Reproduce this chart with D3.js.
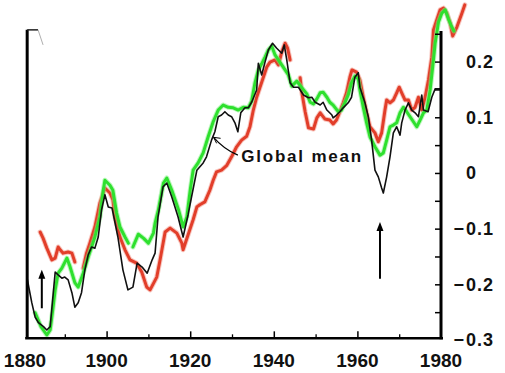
<!DOCTYPE html>
<html>
<head>
  <script src="https://cdnjs.cloudflare.com/ajax/libs/d3/7.8.5/d3.min.js"></script>
  <style>
    body { margin: 0; background: #fff; }
    .series { fill: none; stroke-linejoin: round; stroke-linecap: round; }
    .label { font-family: "Liberation Sans", Arial, Helvetica, sans-serif; font-weight: bold; fill: #111; }
  </style>
</head>
<body>
  <div id="graph"></div>
  <script>
    // Temperature anomaly series, [year, value]; null value = break in the line
    const globalMean = [
      [1881.0,-0.190],[1882.1,-0.233],[1882.9,-0.259],[1883.7,-0.269],[1884.9,-0.276],[1885.7,-0.282],
      [1886.5,-0.276],[1887.7,-0.178],[1888.4,-0.183],[1889.3,-0.189],[1890.0,-0.187],[1890.8,-0.192],
      [1891.7,-0.215],[1892.4,-0.241],[1893.2,-0.233],[1894.0,-0.215],[1894.8,-0.174],[1895.6,-0.147],
      [1896.4,-0.133],[1897.2,-0.135],[1898.0,-0.115],[1898.8,-0.066],[1899.6,-0.039],[1900.4,-0.061],
      [1901.3,-0.063],[1902.7,-0.115],[1903.9,-0.174],[1905.1,-0.210],[1906.3,-0.205],[1907.3,-0.162],
      [1908.5,-0.169],[1909.7,-0.180],[1910.9,-0.156],[1911.6,-0.144],[1912.3,-0.079],[1913.5,-0.025],
      [1914.4,-0.018],[1915.6,-0.043],[1917.1,-0.079],[1918.3,-0.115],[1919.5,-0.075],[1920.4,-0.040],
      [1921.6,0.005],[1923.1,0.018],[1923.9,0.029],[1925.1,0.059],[1925.9,0.074],[1926.7,0.101],
      [1927.5,0.104],[1928.3,0.110],[1929.1,0.104],[1929.9,0.101],[1930.7,0.090],[1931.4,0.074],
      [1932.1,0.108],[1933.1,0.117],[1933.9,0.117],[1934.7,0.127],[1935.9,0.149],[1936.3,0.197],
      [1937.1,0.176],[1937.9,0.199],[1938.7,0.221],[1939.7,0.233],[1940.7,0.224],[1941.9,0.215],
      [1942.5,0.230],[1943.1,0.203],[1943.9,0.162],[1944.7,0.154],[1945.9,0.154],[1947.1,0.140],
      [1948.3,0.135],[1949.1,0.136],[1949.9,0.127],[1951.1,0.122],[1951.8,0.127],[1952.7,0.113],
      [1953.9,0.104],[1954.2,0.099],[1955.0,0.104],[1955.8,0.110],[1956.6,0.117],[1957.8,0.126],
      [1958.6,0.136],[1959.4,0.172],[1960.2,0.180],[1960.6,0.154],[1961.8,0.126],[1962.6,0.101],
      [1963.4,0.059],[1964.2,0.005],[1965.0,-0.007],[1965.8,-0.027],[1966.2,-0.036],[1967.0,-0.007],
      [1967.8,0.029],[1968.6,0.072],[1969.4,0.083],[1970.2,0.068],[1970.6,0.090],[1971.4,0.113],
      [1972.2,0.126],[1973.0,0.113],[1973.8,0.108],[1974.6,0.101],[1975.4,0.140],[1975.8,0.113],
      [1976.9,0.110],[1977.8,0.136],[1978.6,0.151],[1979.8,0.151]
    ];

    const greenSeries = [
      [1882.9,-0.251],[1884.3,-0.276],[1885.7,-0.291],[1886.5,-0.282],[1887.2,-0.241],[1887.7,-0.210],
      [1888.4,-0.180],[1889.3,-0.171],[1890.5,-0.153],[1891.2,-0.167],[1892.4,-0.197],[1893.2,-0.205],
      [1894.4,-0.180],[1895.6,-0.151],[1897.2,-0.115],[1898.4,-0.079],[1899.2,-0.031],[1899.6,-0.013],
      [1900.8,-0.022],[1901.5,-0.031],[1902.4,-0.072],[1903.2,-0.097],[1904.4,-0.115],[1905.2,-0.126],
      [1905.7,null],
      [1906.3,-0.133],[1907.6,-0.110],[1908.8,-0.117],[1910.0,-0.126],[1911.2,-0.108],[1911.6,-0.090],
      [1912.4,-0.066],[1913.6,-0.018],[1914.4,-0.009],[1915.6,-0.031],[1917.2,-0.066],[1918.3,-0.097],
      [1919.2,-0.079],[1920.0,-0.031],[1920.7,0.005],[1921.9,0.018],[1923.1,0.036],[1924.3,0.065],
      [1925.5,0.092],[1926.7,0.113],[1927.9,0.122],[1929.1,0.118],[1930.3,0.117],[1931.5,0.113],
      [1932.7,0.118],[1933.9,0.117],[1934.7,0.129],[1935.5,0.162],[1936.3,0.185],[1937.1,0.196],
      [1937.9,0.208],[1938.7,0.221],[1939.5,0.228],[1940.3,0.212],[1941.1,0.203],[1941.9,0.194],
      [1942.7,0.185],[1943.5,0.176],[1944.3,0.156],[1945.5,0.165],[1946.7,0.153],[1947.9,0.142],
      [1948.7,0.127],[1949.5,0.124],[1950.3,0.133],[1951.1,0.144],[1951.8,0.145],[1952.7,0.136],
      [1953.4,0.127],[1954.2,0.122],[1955.4,0.110],[1956.2,0.113],[1957.0,0.126],[1957.8,0.140],
      [1958.6,0.162],[1959.4,0.174],[1960.2,0.169],[1960.6,0.149],[1961.4,0.118],[1962.2,0.090],
      [1963.0,0.065],[1964.2,0.047],[1965.4,0.032],[1966.2,0.036],[1967.0,0.059],[1967.8,0.083],
      [1968.6,0.086],[1969.4,0.090],[1970.2,0.108],[1971.0,0.118],[1971.8,0.110],[1972.6,0.101],
      [1973.4,0.092],[1974.2,0.083],[1975.0,0.095],[1975.8,0.108],[1976.6,0.113],[1977.4,0.149],
      [1978.2,0.203],[1978.6,0.233],[1979.4,0.271],[1980.2,0.287],[1981.0,0.293],[1981.8,0.276],
      [1982.6,0.262],[1983.1,0.255]
    ];

    const redSeries = [
      [1884.1,-0.106],[1884.8,-0.117],[1885.7,-0.135],[1886.9,-0.156],[1887.7,-0.153],[1888.4,-0.133],
      [1888.9,-0.138],[1889.6,-0.144],[1890.8,-0.142],[1891.7,-0.144],[1892.4,-0.160],
      [1893.4,null],
      [1894.4,-0.171],[1895.2,-0.144],[1896.0,-0.126],[1897.2,-0.097],[1898.4,-0.054],[1899.6,-0.027],
      [1900.8,-0.036],[1901.5,-0.048],[1902.0,-0.079],[1903.2,-0.115],[1904.4,-0.138],[1905.6,-0.156],
      [1907.2,-0.162],[1908.4,-0.178],[1909.6,-0.205],[1910.4,-0.210],[1912.0,-0.187],[1912.8,-0.156],
      [1914.0,-0.106],[1915.2,-0.099],[1916.8,-0.108],[1918.0,-0.126],[1918.3,-0.138],[1919.5,-0.111],
      [1920.7,-0.084],[1921.6,-0.061],[1922.3,-0.057],[1923.5,-0.052],[1924.7,-0.031],[1925.5,-0.013],
      [1926.3,0.002],[1927.5,0.005],[1928.7,0.013],[1929.9,0.029],[1931.1,0.047],[1932.3,0.059],
      [1933.5,0.066],[1934.3,0.083],[1935.1,0.113],[1935.9,0.136],[1936.7,0.154],[1937.5,0.172],
      [1938.3,0.190],[1939.1,0.199],[1940.3,0.203],[1941.1,0.194],[1941.9,0.217],[1942.7,0.233],
      [1943.3,0.224],[1943.9,0.203],
      [1945.0,null],
      [1946.3,0.171],[1946.7,0.145],[1947.5,0.110],[1948.3,0.081],[1949.5,0.079],[1950.3,0.099],
      [1951.1,0.108],[1952.2,0.097],[1953.4,0.095],[1954.2,0.088],[1955.0,0.095],[1955.8,0.110],
      [1956.6,0.126],[1957.4,0.144],[1958.2,0.172],[1958.7,0.185],[1959.8,0.181],[1960.6,0.167],
      [1961.4,0.136],[1962.2,0.108],[1963.0,0.083],[1964.2,0.072],[1965.0,0.056],[1965.8,0.072],
      [1966.6,0.113],[1967.0,0.131],[1967.8,0.126],[1968.6,0.131],[1969.4,0.144],[1970.0,0.154],
      [1970.6,0.144],[1971.4,0.131],[1972.2,0.131],[1973.0,0.113],[1973.8,0.118],[1974.6,0.136],
      [1975.4,0.113],[1976.2,0.136],[1977.0,0.167],[1977.8,0.208],[1978.2,0.257],[1979.0,0.275],
      [1979.8,0.293],[1980.6,0.296],[1981.4,0.287],[1982.2,0.269],[1982.8,0.246],[1983.8,0.262],
      [1985.0,0.287],[1985.7,0.302]
    ];

    // axis ticks and labels
    const xLabels = [1880, 1900, 1920, 1940, 1960, 1980];
    const xMajorTicks = [1900, 1920, 1940, 1960];
    const xMinorTicks = [1890, 1910, 1930, 1950, 1970];
    const yTicks = [-0.25, -0.2, -0.15, -0.1, -0.05, 0, 0.05, 0.1, 0.15, 0.2, 0.25];
    const yLabels = [0.2, 0.1, 0, -0.1, -0.2, -0.3];

    const W = 505, H = 373;
    const svg = d3.select("#graph").append("svg")
      .attr("width", W).attr("height", H);

    const x = d3.scaleLinear().domain([1880, 1980]).range([23, 441]);
    const y = d3.scaleLinear().domain([-0.3, 0.2]).range([340, 61.6]);

    const axisBottomY = y(-0.297);
    const leftX = x(1881);
    const topY = y(0.257);

    // Lines
    const line = d3.line()
      .defined(d => d[1] !== null)
      .x(d => x(d[0]))
      .y(d => y(d[1]));

    // soft halo under coloured lines (printed look)
    svg.append("path").datum(redSeries).attr("class", "series")
      .attr("stroke", "#f08070").attr("stroke-opacity", 0.45).attr("stroke-width", 5)
      .attr("d", line);
    svg.append("path").datum(redSeries).attr("class", "series")
      .attr("stroke", "#e23e2a").attr("stroke-width", 3)
      .attr("d", line);

    svg.append("path").datum(greenSeries).attr("class", "series")
      .attr("stroke", "#7cf07c").attr("stroke-opacity", 0.5).attr("stroke-width", 5)
      .attr("d", line);
    svg.append("path").datum(greenSeries).attr("class", "series")
      .attr("stroke", "#2ee02e").attr("stroke-width", 3)
      .attr("d", line);

    svg.append("path").datum(globalMean).attr("class", "series")
      .attr("stroke", "#111").attr("stroke-width", 1.6)
      .attr("d", line);

    // Left axis line with small hook at top
    svg.append("line")
      .attr("x1", leftX).attr("x2", leftX)
      .attr("y1", topY).attr("y2", axisBottomY)
      .attr("stroke", "#000").attr("stroke-width", 3);
    svg.append("line")
      .attr("x1", leftX).attr("x2", x(1883.6))
      .attr("y1", topY).attr("y2", topY)
      .attr("stroke", "#222").attr("stroke-width", 1.5);
    svg.append("line")
      .attr("x1", x(1883.6)).attr("x2", x(1884.8))
      .attr("y1", topY).attr("y2", y(0.23))
      .attr("stroke", "#999").attr("stroke-width", 0.8);

    // Bottom axis, ticks pointing up
    const bottom = svg.append("g").attr("transform", `translate(0,${axisBottomY})`);
    bottom.append("g")
      .call(d3.axisTop(x).tickValues(xMajorTicks).tickSize(7).tickSizeOuter(0).tickFormat(""))
      .call(g => g.select(".domain").remove())
      .call(g => g.selectAll("line").attr("stroke-width", 1.5));
    bottom.append("g")
      .call(d3.axisTop(x).tickValues(xMinorTicks).tickSize(4).tickSizeOuter(0).tickFormat(""))
      .call(g => g.select(".domain").remove())
      .call(g => g.selectAll("line").attr("stroke-width", 1.3));
    bottom.append("line")
      .attr("x1", leftX - 2).attr("x2", x(1980) + 2)
      .attr("stroke", "#000").attr("stroke-width", 2.5);

    svg.append("g").selectAll("text")
      .data(xLabels)
      .join("text")
        .attr("class", "label")
        .attr("x", d => x(d) + (d === 1880 ? 2 : 0))
        .attr("y", 367)
        .attr("text-anchor", "middle")
        .style("font-size", "19px")
        .text(d => d);

    // Right axis, ticks pointing inward
    const right = svg.append("g").attr("transform", `translate(${x(1980)},0)`);
    right.append("g")
      .call(d3.axisLeft(y).tickValues(yTicks).tickSize(6).tickSizeOuter(0).tickFormat(""))
      .call(g => g.select(".domain").remove())
      .call(g => g.selectAll("line").attr("stroke-width", 1.5));
    right.append("line")
      .attr("y1", y(0.255)).attr("y2", axisBottomY + 1)
      .attr("stroke", "#000").attr("stroke-width", 3);

    const yl = svg.append("g").selectAll("g")
      .data(yLabels)
      .join("g")
        .attr("transform", d => `translate(466,${y(d) + (d === -0.3 ? 5.5 : 6.5)})`);
    yl.append("text")
      .attr("class", "label")
      .style("font-size", "18px")
      .style("letter-spacing", "1px")
      .text(d => Math.abs(d) === 0 ? "0" : Math.abs(d).toFixed(1));
    yl.filter(d => d < 0).append("text")
      .attr("class", "label")
      .attr("x", -2)
      .attr("text-anchor", "end")
      .style("font-size", "18px")
      .text("\u2212");

    // Annotations
    const arrow = (yr, v0, v1) => {
      svg.append("line")
        .attr("x1", x(yr)).attr("x2", x(yr))
        .attr("y1", y(v0)).attr("y2", y(v1) + 4)
        .attr("stroke", "#000").attr("stroke-width", 2);
      svg.append("path")
        .attr("d", `M${x(yr)},${y(v1)} l-3.5,9 l7,0 z`)
        .attr("fill", "#000");
    };
    arrow(1884.5, -0.243, -0.174);
    arrow(1965.4, -0.190, -0.088);

    svg.append("path")
      .attr("d", `M${x(1931.4)},${y(0.032)} Q${x(1928)},${y(0.043)} ${x(1925.6)},${y(0.064)}`)
      .attr("fill", "none").attr("stroke", "#000").attr("stroke-width", 1.2);
    svg.append("path")
      .attr("d", `M${x(1925.6) + 7},${y(0.064) + 1} L${x(1925.6)},${y(0.064)} L${x(1925.6) + 3},${y(0.064) + 6}`)
      .attr("fill", "none").attr("stroke", "#000").attr("stroke-width", 1);

    svg.append("text")
      .attr("class", "label")
      .attr("x", x(1932.2))
      .attr("y", y(0.019))
      .style("font-size", "17px")
      .style("letter-spacing", "1.8px")
      .text("Global mean");
  </script>
</body>
</html>
